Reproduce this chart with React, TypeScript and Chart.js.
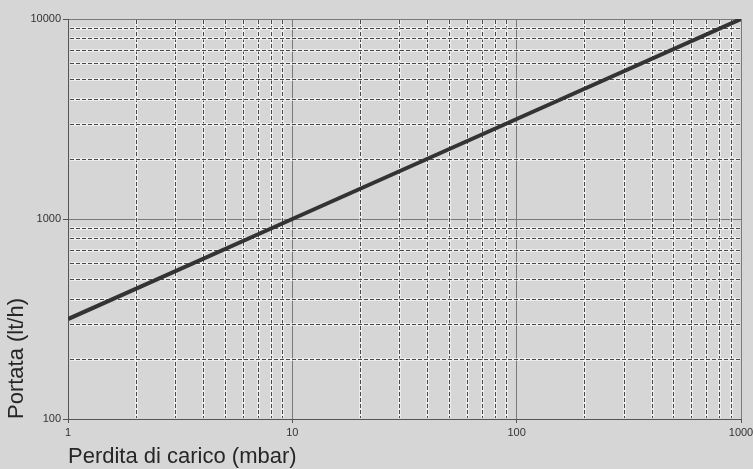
import { useEffect, useRef } from 'react';
import { Chart, registerables } from 'chart.js';

Chart.register(...registerables);

// Data
const pressureDrop = [1, 10, 100, 1000]; // mbar
const flowRate = [316, 1000, 3162, 10000]; // lt/h

const xMajorTicks = [1, 10, 100, 1000];
const yMajorTicks = [100, 1000, 10000];
const xMinorGrid = [2, 3, 4, 5, 6, 7, 8, 9, 20, 30, 40, 50, 60, 70, 80, 90, 200, 300, 400, 500, 600, 700, 800, 900];
const yMinorGrid = [200, 300, 400, 500, 600, 700, 800, 900, 2000, 3000, 4000, 5000, 6000, 7000, 8000, 9000];

const xTitle = 'Perdita di carico (mbar)';
const yTitle = 'Portata (lt/h)';

const BG = '#d6d6d6';

const bgPlugin = {
  id: 'bgFill',
  beforeDraw(chart: any) {
    const { ctx, width, height } = chart;
    ctx.save();
    ctx.fillStyle = BG;
    ctx.fillRect(0, 0, width, height);
    ctx.restore();
  },
};

const minorGridPlugin = {
  id: 'minorGrid',
  beforeDatasetsDraw(chart: any) {
    const { ctx, chartArea: a, scales } = chart;
    const xs = scales.x;
    const ys = scales.y;
    ctx.save();
    const line = (x1: number, y1: number, x2: number, y2: number) => {
      ctx.strokeStyle = 'rgba(255,255,255,0.55)';
      ctx.lineWidth = 3;
      ctx.setLineDash([]);
      ctx.beginPath();
      ctx.moveTo(x1, y1);
      ctx.lineTo(x2, y2);
      ctx.stroke();
      ctx.strokeStyle = '#474747';
      ctx.lineWidth = 1;
      ctx.setLineDash([4, 2]);
      ctx.beginPath();
      ctx.moveTo(x1, y1);
      ctx.lineTo(x2, y2);
      ctx.stroke();
    };
    xMinorGrid.forEach((v) => {
      const px = Math.round(xs.getPixelForValue(v)) + 0.5;
      line(px, a.top + 1, px, a.bottom - 1);
    });
    yMinorGrid.forEach((v) => {
      const py = Math.round(ys.getPixelForValue(v)) + 0.5;
      line(a.left + 2, py, a.right - 1, py);
    });
    ctx.restore();
  },
};

export default function App() {
  const ref = useRef<HTMLCanvasElement | null>(null);

  useEffect(() => {
    document.body.style.margin = '0';
    document.body.style.background = BG;
    document.body.style.overflow = 'hidden';
    Chart.defaults.font.family = "'Liberation Sans', Arial, Helvetica, sans-serif";

    const canvas = ref.current;
    if (!canvas) return;

    const chart = new Chart(canvas, {
      type: 'line',
      data: {
        datasets: [
          {
            data: pressureDrop.map((x, i) => ({ x, y: flowRate[i] })),
            borderColor: '#333333',
            borderWidth: 4,
            pointRadius: 0,
            fill: false,
            tension: 0,
          },
        ],
      },
      options: {
        responsive: false,
        animation: false,
        layout: { padding: { top: 19, right: 12, left: 0, bottom: 0 } },
        plugins: {
          legend: { display: false },
          tooltip: { enabled: false },
        },
        scales: {
          x: {
            type: 'logarithmic',
            position: 'bottom',
            min: 1,
            max: 1000,
            afterBuildTicks: (scale: any) => {
              scale.ticks = xMajorTicks.map((v) => ({ value: v }));
            },
            afterFit: (scale: any) => {
              scale.height = 50;
              scale.paddingLeft = 0;
              scale.paddingRight = 0;
            },
            ticks: {
              autoSkip: false,
              maxRotation: 0,
              padding: 3,
              color: '#333',
              font: { size: 11 },
              callback: (v: any) => String(v),
            },
            grid: {
              color: '#7a7a7a',
              lineWidth: 1,
              tickLength: 4,
              tickColor: '#555',
            },
            border: { color: '#555', width: 1 },
            title: {
              display: true,
              text: xTitle,
              align: 'start',
              color: '#262626',
              font: { size: 22, lineHeight: 1 },
              padding: { top: 0, bottom: 1 },
            },
          },
          y: {
            type: 'logarithmic',
            position: 'left',
            min: 100,
            max: 10000,
            afterBuildTicks: (scale: any) => {
              scale.ticks = yMajorTicks.map((v) => ({ value: v }));
            },
            afterFit: (scale: any) => {
              scale.width = 68;
              scale.paddingTop = 0;
              scale.paddingBottom = 0;
            },
            ticks: {
              autoSkip: false,
              padding: 2,
              color: '#333',
              font: { size: 11 },
              callback: (v: any) => String(v),
            },
            grid: {
              color: '#7a7a7a',
              lineWidth: 1,
              tickLength: 5,
              tickColor: '#555',
            },
            border: { color: '#555', width: 1 },
            title: {
              display: true,
              text: yTitle,
              align: 'start',
              color: '#262626',
              font: { size: 22, lineHeight: 1 },
              padding: { top: 6, bottom: 0 },
            },
          },
        },
      },
      plugins: [bgPlugin, minorGridPlugin],
    } as any);

    return () => chart.destroy();
  }, []);

  return <canvas ref={ref} width={753} height={469} style={{ display: 'block' }} />;
}
